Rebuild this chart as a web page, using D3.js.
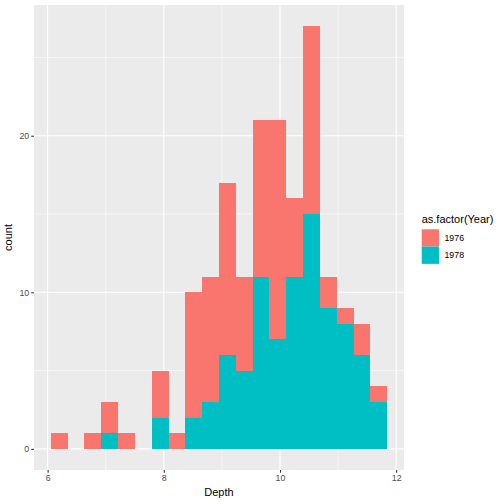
<!DOCTYPE html>
<html>
<head>
<meta charset="utf-8">
<script src="https://cdn.jsdelivr.net/npm/d3@7"></script>
<style>
  body { margin: 0; background: #fff; }
  text { font-family: "Liberation Sans", Arial, Helvetica, sans-serif; }
</style>
</head>
<body>
<div id="chart"></div>
<script>
// histogram of Depth, 20 bins, stacked by year
const depthMin = 6.2;
const depthMax = 11.7;
const nBins = 20;
const years = ["1976", "1978"];
const counts1976 = [1, 0, 1, 2, 1, 0, 3, 1, 8, 8, 11, 6, 10, 14, 5, 12, 2, 1, 2, 1];
const counts1978 = [0, 0, 0, 1, 0, 0, 2, 0, 2, 3, 6, 5, 11, 7, 11, 15, 9, 8, 6, 3];
const xTicks = [6, 8, 10, 12];
const yTicks = [0, 10, 20];

const colors = { "1976": "#F8766D", "1978": "#00BFC4" };

const binWidth = (depthMax - depthMin) / (nBins - 1);
const bins = counts1976.map((c, i) => ({
  x0: depthMin + (i - 0.5) * binWidth,
  x1: depthMin + (i + 0.5) * binWidth,
  "1976": c,
  "1978": counts1978[i]
}));

const W = 504, H = 504;
const panel = { left: 34, right: 404, top: 5, bottom: 470 };

const svg = d3.select("#chart").append("svg")
  .attr("width", W).attr("height", H);

// ggplot-style expansion
const xLo = bins[0].x0, xHi = bins[bins.length - 1].x1;
const xPad = (xHi - xLo) * 0.05;
const x = d3.scaleLinear().domain([xLo - xPad, xHi + xPad]).range([panel.left, panel.right]);

const stack = d3.stack().keys(["1978", "1976"]);
const series = stack(bins);
const yMax = d3.max(bins, d => d["1976"] + d["1978"]);
const yPad = yMax * 0.05;
const y = d3.scaleLinear().domain([-yPad, yMax + yPad]).range([panel.bottom, panel.top]);

// panel background
svg.append("rect")
  .attr("x", panel.left).attr("y", panel.top)
  .attr("width", panel.right - panel.left).attr("height", panel.bottom - panel.top)
  .attr("fill", "#EBEBEB");

// minor grid
const xMinor = xTicks.slice(0, -1).map((t, i) => (t + xTicks[i + 1]) / 2);
const yMinor = yTicks.map(t => t + 5).filter(t => t < y.domain()[1]);
const grid = svg.append("g");
grid.selectAll(".xmin").data(xMinor).enter().append("line")
  .attr("x1", d => x(d)).attr("x2", d => x(d))
  .attr("y1", panel.top).attr("y2", panel.bottom)
  .attr("stroke", "#fff").attr("stroke-width", 0.53);
grid.selectAll(".ymin").data(yMinor).enter().append("line")
  .attr("y1", d => y(d)).attr("y2", d => y(d))
  .attr("x1", panel.left).attr("x2", panel.right)
  .attr("stroke", "#fff").attr("stroke-width", 0.53);
// major grid
grid.selectAll(".xmaj").data(xTicks).enter().append("line")
  .attr("x1", d => x(d)).attr("x2", d => x(d))
  .attr("y1", panel.top).attr("y2", panel.bottom)
  .attr("stroke", "#fff").attr("stroke-width", 1.07);
grid.selectAll(".ymaj").data(yTicks).enter().append("line")
  .attr("y1", d => y(d)).attr("y2", d => y(d))
  .attr("x1", panel.left).attr("x2", panel.right)
  .attr("stroke", "#fff").attr("stroke-width", 1.07);

// bars
svg.append("g").attr("shape-rendering", "crispEdges")
  .selectAll("g").data(series).enter().append("g")
  .attr("fill", s => colors[s.key])
  .selectAll("rect").data(s => s).enter().append("rect")
  .attr("x", d => x(d.data.x0))
  .attr("width", d => x(d.data.x1) - x(d.data.x0))
  .attr("y", d => y(d[1]))
  .attr("height", d => y(d[0]) - y(d[1]));

// axes
const xAxis = svg.append("g")
  .attr("transform", `translate(0,${panel.bottom})`)
  .call(d3.axisBottom(x).tickValues(xTicks).tickFormat(d3.format("d")).tickSize(2.74).tickPadding(2));
const yAxis = svg.append("g")
  .attr("transform", `translate(${panel.left},0)`)
  .call(d3.axisLeft(y).tickValues(yTicks).tickFormat(d3.format("d")).tickSize(2.74).tickPadding(2));
[xAxis, yAxis].forEach(a => {
  a.select(".domain").remove();
  a.selectAll(".tick line").attr("stroke", "#333333").attr("stroke-width", 1.07);
  a.selectAll(".tick text").attr("fill", "#4D4D4D").style("font-size", "8.8px");
});

// axis titles
svg.append("text")
  .attr("x", (panel.left + panel.right) / 2).attr("y", 496)
  .attr("text-anchor", "middle").style("font-size", "11px").attr("fill", "#000")
  .text("Depth");
svg.append("text")
  .attr("transform", `translate(12,${(panel.top + panel.bottom) / 2}) rotate(-90)`)
  .attr("text-anchor", "middle").style("font-size", "11px").attr("fill", "#000")
  .text("count");

// legend
const legend = svg.append("g").attr("transform", "translate(421.7,0)");
legend.append("text")
  .attr("x", 0).attr("y", 223)
  .style("font-size", "11px").attr("fill", "#000")
  .text("as.factor(Year)");
const keySize = 17.28;
const keys = legend.selectAll(".key").data(years).enter().append("g")
  .attr("transform", (d, i) => `translate(0,${229.3 + i * keySize})`);
keys.append("rect")
  .attr("width", keySize).attr("height", keySize)
  .attr("fill", d => colors[d]);
keys.append("text")
  .attr("x", keySize + 5.5).attr("y", keySize / 2)
  .attr("dy", "0.35em")
  .style("font-size", "8.8px").attr("fill", "#000")
  .text(d => d);
</script>
</body>
</html>
